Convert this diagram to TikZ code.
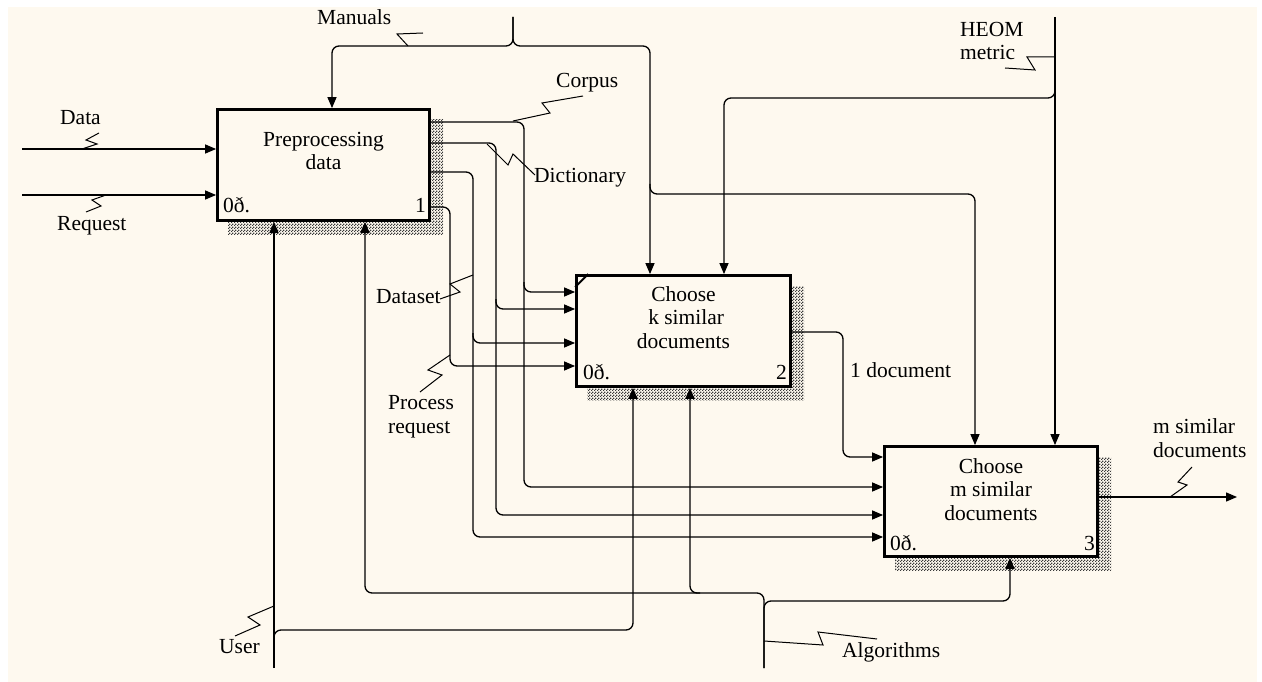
\documentclass[tikz,border=0pt]{standalone}
\usepackage{fontspec}
\setmainfont{Liberation Serif}
\usetikzlibrary{arrows.meta,patterns.meta}
\definecolor{bgc}{HTML}{FEF9EF}
\definecolor{shd}{HTML}{3A3A3A}
\tikzdeclarepattern{name=shdots,type=uncolored,bottom left={(0pt,0pt)},top right={(3pt,3pt)},tile size={(3pt,3pt)},
  code={\fill (0pt,0pt) rectangle (1.5pt,1.5pt); \fill (1.5pt,1.5pt) rectangle (3pt,3pt);}}
\begin{document}
\begin{tikzpicture}[x=1pt,y=-1pt,
  font=\fontsize{21.5}{23.5}\selectfont,
  box/.style={draw,line width=2.8pt,fill=bgc,inner sep=0pt},
  shadowfill/.style={pattern=shdots,pattern color=shd},
  conn/.style={line width=1.3pt,rounded corners=7pt},
  arr/.style={conn,-{Triangle[length=11pt,width=9pt]}},
  zig/.style={line width=1pt},
  lbl/.style={anchor=base west,inner sep=0pt},
  boxtext/.style={anchor=base,inner sep=0pt,align=center},
  ]
\useasboundingbox (0,0) rectangle (1262,682);
\fill[white] (0,0) rectangle (1262,682);
\fill[bgc] (8,7) rectangle (1257,682);

% shadows
\fill[shadowfill] (228,120) rectangle (443,234);
\fill[shadowfill] (587,286) rectangle (804,400);
\fill[shadowfill] (895,457) rectangle (1111,570);

% boxes
\node[box,minimum width=212pt,minimum height=111pt] (b1) at (323.5,165) {};
\node[box,minimum width=214pt,minimum height=111pt] (b2) at (683.5,331) {};
\node[box,minimum width=213pt,minimum height=110pt] (b3) at (991,501.5) {};
\draw[line width=2pt] ([shift={(0,13)}]b2.north west) -- ([shift={(13,0)}]b2.north west);

% box texts (base anchor = baseline of last line)
\node[boxtext] (b1t) at (323.5,170) {Preprocessing\\data};
\node[boxtext] (b2t) at (683.5,348) {Choose\\~k similar\\documents};
\node[boxtext] (b3t) at (991,520) {Choose\\m similar\\documents};
\node[lbl] (b1n) at (223,213) {0ð.};
\node[anchor=base east,inner sep=0pt] (b1k) at (426,213) {1};
\node[lbl] (b2n) at (583,379) {0ð.};
\node[anchor=base east,inner sep=0pt] (b2k) at (787,379) {2};
\node[lbl] (b3n) at (890,550) {0ð.};
\node[anchor=base east,inner sep=0pt] (b3k) at (1095,550) {3};

% free ends
\coordinate (dataSrc) at (22,149);
\coordinate (reqSrc) at (22,195);
\coordinate (manSrc) at (513,17);
\coordinate (heomSrc) at (1055,17);
\coordinate (userSrc) at (274,668);
\coordinate (algSrc) at (764,668);
\coordinate (mOut) at (1237,497);

% inputs
\draw[arr] (dataSrc) -- (dataSrc -| b1.west);
\draw[arr] (reqSrc) -- (reqSrc -| b1.west);

% controls
\draw[arr] (manSrc) -- (513,46) -- (332,46) -- (332,0 |- b1.north);
\draw[arr] (manSrc) -- (513,46) -- (650,46) -- (650,0 |- b2.north);
\draw[arr] (650,184) -- (650,194) -- (975,194) -- (975,0 |- b3.north);
\draw[arr] (heomSrc) -- (heomSrc |- b3.north);
\draw[arr] (1055,86) -- (1055,98) -- (724,98) -- (724,0 |- b2.north);

% outputs of box 1
\draw[arr] (b1.east |- 0,122) -- (524,122) -- (524,487) -- (b3.west |- 0,487);
\draw[arr] (524,282) -- (524,292) -- (b2.west |- 0,292);
\draw[arr] (b1.east |- 0,143) -- (496,143) -- (496,515) -- (b3.west |- 0,515);
\draw[arr] (496,299) -- (496,309) -- (b2.west |- 0,309);
\draw[arr] (b1.east |- 0,172) -- (473,172) -- (473,537) -- (b3.west |- 0,537);
\draw[arr] (473,333) -- (473,343) -- (b2.west |- 0,343);
\draw[arr] (b1.east |- 0,207) -- (450,207) -- (450,366) -- (b2.west |- 0,366);

% box 2 -> box 3, output
\draw[arr] (b2.east |- 0,332) -- (843,332) -- (843,457) -- (b3.west |- 0,457);
\draw[arr] (b3.east |- mOut) -- (mOut);

% mechanisms
\draw[arr] (userSrc) -- (userSrc |- b1.south);
\draw[arr] (274,640) -- (274,630) -- (633,630) -- (633,0 |- b2.south);
\draw[arr] (algSrc) -- (764,593) -- (365,593) -- (365,0 |- b1.south);
\draw[arr] (algSrc) -- (764,601) -- (1010,601) -- (1010,0 |- b3.south);
\draw[arr] (700,593) -- (690,593) -- (690,0 |- b2.south);

% labels
\node[lbl] (lData) at (60,125) {Data};
\node[lbl] (lReq) at (57,230) {Request};
\node[lbl] (lMan) at (317,25) {Manuals};
\node[lbl] (lCorp) at (556,88) {Corpus};
\node[lbl] (lDict) at (534,183) {Dictionary};
\node[lbl,align=left] (lHeom) at (960,60) {HEOM\\metric};
\node[lbl] (lDs) at (376,303) {Dataset};
\node[lbl,align=left] (lPr) at (388,433) {Process\\request};
\node[lbl] (lUser) at (219,653) {User};
\node[lbl] (lAlg) at (842,657) {Algorithms};
\node[lbl] (l1d) at (850,377) {1 document};
\node[lbl,align=left] (lms) at (1153,457) {m similar\\documents};

% squiggles
\draw[zig] (82,149) -- (97,144) -- (86,140) -- (99,133);
\draw[zig] (106,195) -- (92,200) -- (101,206) -- (86,212);
\draw[zig] (423,33) -- (397,34) -- (408,46);
\draw[zig] (583,96) -- (542,103) -- (550,113) -- (513,121);
\draw[zig] (487,144) -- (508,165) -- (513,154) -- (535,175);
\draw[zig] (1005,68) -- (1035,70) -- (1027,57) -- (1055,57);
\draw[zig] (440,299) -- (460,292) -- (450,284) -- (473,275);
\draw[zig] (420,392) -- (442,375) -- (428,370) -- (450,355);
\draw[zig] (235,636) -- (260,625) -- (248,617) -- (274,606);
\draw[zig] (877,639) -- (818,632) -- (823,645) -- (764,641);
\draw[zig] (1170,497) -- (1187,485) -- (1178,482) -- (1192,467);
\end{tikzpicture}
\end{document}
